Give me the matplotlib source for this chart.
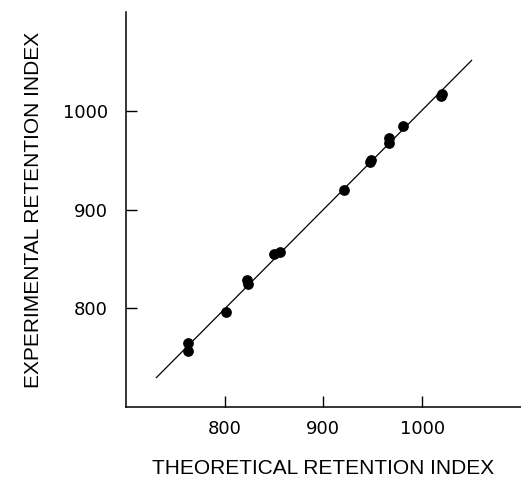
import matplotlib
matplotlib.use("Agg")
import matplotlib.pyplot as plt

# theoretical vs experimental retention index
theoretical = [763, 763, 801, 823, 824, 850, 856, 921, 947, 948, 966, 966, 981, 1019, 1020]
experimental = [765, 757, 796, 829, 825, 855, 857, 920, 948, 950, 972, 967, 985, 1015, 1017]
fit_x = [731, 1050]
fit_y = [730, 1051]

x_ticks = [800, 900, 1000]
y_ticks = [800, 900, 1000]

plt.rcParams['font.family'] = ['DejaVu Sans']

fig = plt.figure(figsize=(5.21, 4.8), dpi=100)
ax = fig.add_axes([0.2413, 0.1515, 0.7587, 0.8235])

ax.plot(fit_x, fit_y, color='black', linewidth=0.9)
ax.scatter(theoretical, experimental, s=45, color='black', zorder=3)

ax.set_xlim(700, 1100)
ax.set_ylim(700, 1100)
ax.set_xticks(x_ticks)
ax.set_yticks(y_ticks)
ax.tick_params(direction='in', length=8, width=1, labelsize=13, pad=9)
ax.tick_params(axis='y', pad=13)

for side in ['top', 'right']:
    ax.spines[side].set_visible(False)
for side in ['left', 'bottom']:
    ax.spines[side].set_linewidth(1.1)

lab_font = dict(family=['Liberation Sans', 'DejaVu Sans'], fontsize=15)
ax.set_xlabel("THEORETICAL RETENTION INDEX", labelpad=15, **lab_font)
ax.set_ylabel("EXPERIMENTAL RETENTION INDEX", labelpad=14, **lab_font)

fig.savefig("out.png", dpi=100)
